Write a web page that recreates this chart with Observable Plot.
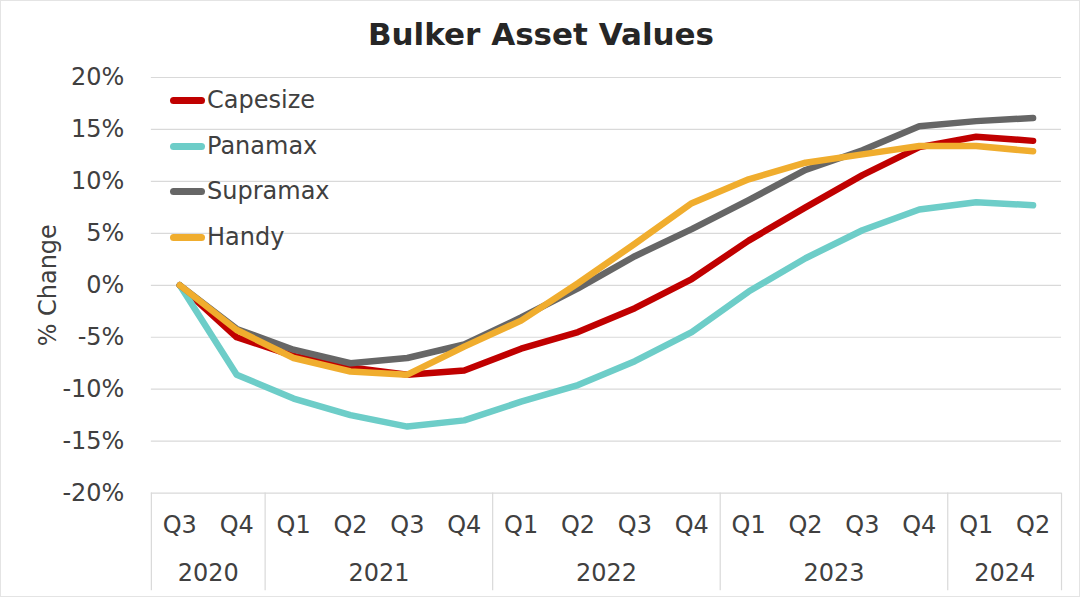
<!DOCTYPE html>
<html>
<head>
<meta charset="utf-8">
<script src="https://cdn.jsdelivr.net/npm/d3@7"></script>
<script src="https://cdn.jsdelivr.net/npm/@observablehq/plot@0.6"></script>
<style>
  html, body { margin: 0; padding: 0; background: #fff; }
  #wrap { position: relative; width: 1080px; height: 597px; box-sizing: border-box; border: 1px solid #e4e4e4; overflow: hidden; font-family: "DejaVu Sans", Verdana, sans-serif; color: #404040; }
  #title { position: absolute; left: 0; top: 0; width: 1080px; height: 60px; text-align: center; font-weight: bold; font-size: 31px; line-height: 66px; color: #262626; }
  #chart { position: absolute; left: -1px; top: 59px; }
  #legend { position: absolute; left: 169px; top: 83px; }
  .item { position: relative; height: 45.7px; font-size: 24px; line-height: 32px; }
  .sw { position: absolute; left: 0; top: 13px; width: 35px; height: 7px; border-radius: 4px; }
  .lb { position: absolute; left: 37px; top: 0; white-space: nowrap; }
</style>
</head>
<body>
<div id="wrap">
  <div id="title">Bulker Asset Values</div>
  <div id="chart"></div>
  <div id="legend"></div>
</div>
<script>
const quarters = ["Q3","Q4","Q1","Q2","Q3","Q4","Q1","Q2","Q3","Q4","Q1","Q2","Q3","Q4","Q1","Q2"];
const years = ["2020","2021","2022","2023","2024"];
const yearStart = [0, 2, 6, 10, 14];
const yearEnd = [1, 5, 9, 13, 15];
const yTicks = [-20, -15, -10, -5, 0, 5, 10, 15, 20];

const seriesNames = ["Capesize", "Panamax", "Supramax", "Handy"];
const seriesColors = ["#c00000", "#6dcdc8", "#666666", "#f0ad2e"];

const capesize = [0, -5.0, -6.8, -7.9, -8.6, -8.2, -6.1, -4.5, -2.2, 0.6, 4.3, 7.5, 10.6, 13.3, 14.3, 13.9];
const panamax  = [0, -8.6, -10.9, -12.5, -13.6, -13.0, -11.2, -9.6, -7.3, -4.5, -0.6, 2.6, 5.3, 7.3, 8.0, 7.7];
const supramax = [0, -4.2, -6.2, -7.5, -7.0, -5.7, -3.1, -0.3, 2.8, 5.4, 8.2, 11.1, 13.0, 15.3, 15.8, 16.1];
const handy    = [0, -4.3, -7.0, -8.3, -8.6, -5.9, -3.4, 0.2, 4.0, 7.9, 10.2, 11.8, 12.6, 13.4, 13.4, 12.9];

const seriesValues = [capesize, panamax, supramax, handy];
const data = seriesNames.flatMap((name, s) => seriesValues[s].map((v, i) => ({series: name, i, v})));

const yearData = years.map((y, k) => ({year: y, center: (yearStart[k] + yearEnd[k]) / 2}));
const separators = [-0.5, ...yearEnd.map(e => e + 0.5)];
const axisBottom = -29.4;

const chart = Plot.plot({
  width: 1080,
  height: 538,
  marginTop: 17,
  marginBottom: 105,
  marginLeft: 151,
  marginRight: 18,
  style: {fontFamily: "'DejaVu Sans', Verdana, sans-serif", fontSize: "24px", color: "#404040", background: "transparent", overflow: "visible"},
  x: {domain: [-0.5, quarters.length - 0.5], axis: null},
  y: {domain: [-20, 20], ticks: yTicks, tickFormat: d => d + "%", tickSize: 0, tickPadding: 27,
      label: "% Change", labelAnchor: "center", labelOffset: 112, labelArrow: "none"},
  color: {domain: seriesNames, range: seriesColors},
  marks: [
    Plot.gridY(yTicks, {stroke: "#d9d9d9", strokeOpacity: 1, strokeWidth: 1.2}),
    Plot.ruleX(separators, {y1: -20, y2: axisBottom, stroke: "#d9d9d9", strokeWidth: 1.2}),
    Plot.lineY(data, {x: "i", y: "v", z: "series", stroke: "series", strokeWidth: 6.5, strokeLinecap: "round", strokeLinejoin: "round"}),
    Plot.text(quarters, {x: (d, i) => i, text: d => d, frameAnchor: "bottom", dy: 40, fontSize: 24, fill: "#404040"}),
    Plot.text(yearData, {x: "center", text: "year", frameAnchor: "bottom", dy: 88, fontSize: 24, fill: "#404040"})
  ]
});
document.getElementById("chart").appendChild(chart);

const legend = document.getElementById("legend");
seriesNames.forEach((name, k) => {
  const item = document.createElement("div");
  item.className = "item";
  item.innerHTML = `<span class="sw" style="background:${seriesColors[k]}"></span><span class="lb">${name}</span>`;
  legend.appendChild(item);
});
</script>
</body>
</html>
